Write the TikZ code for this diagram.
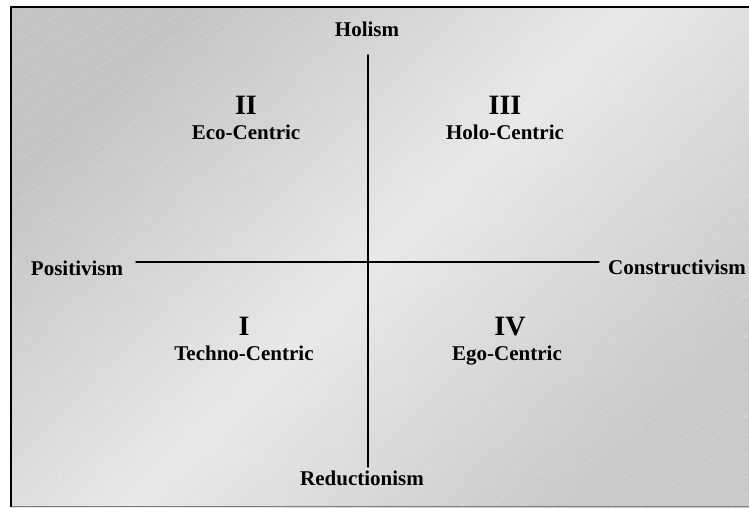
\documentclass[tikz,border=0pt]{standalone}
\usepackage{fontspec}
\setmainfont{Liberation Serif}
\usetikzlibrary{positioning}
\tikzset{
  every picture/.append style={line cap=round,line join=round},
  axis label/.style={font=\fontsize{21}{24}\selectfont\bfseries,inner sep=0pt,anchor=base},
  quad numeral/.style={font=\fontsize{28}{30}\selectfont\bfseries,inner sep=0pt,anchor=base},
  quad name/.style={axis label},
  axis line/.style={line width=1.4pt},
  paper stripe/.style={white,opacity=0.3,line width=0.5pt,dash pattern=on 2pt off 1.5pt},
  frame line/.style={line width=1.8pt,line cap=butt}
}

\begin{document}
\begin{tikzpicture}[x=1pt,y=-1pt]
  \useasboundingbox (0,0) rectangle (749,507);
  % paper
  \shade[top color=black!23,bottom color=black!21,middle color=black!9,shading angle=45]
    (11,7) rectangle (749,507);
  \begin{scope}
    \clip (12,8) rectangle (749,505);
    \foreach \k in {-820,-790,...,760}
      \draw[paper stripe] (\k,520) -- ++(820,-547);
  \end{scope}
  \draw[frame line] (749,7) -| (11,507);
  \draw[gray,line width=1pt] (12,506) -- (749,506);

  % axes
  \coordinate (ytop) at (368,55);
  \coordinate (ybot) at (368,467);
  \coordinate (xleft) at (136,262);
  \coordinate (xright) at (599,262);
  \draw[axis line] (ytop) -- (ybot);
  \draw[axis line] (xleft) -- (xright);

  \node[axis label] (holism) at (367,36.5) {Holism};
  \node[axis label] (reduct) at (362,485.5) {Reductionism};
  \node[axis label] (posit) at (77,275.5) {Positivism};
  \node[axis label] (constr) at (677,274.5) {Constructivism};

  % quadrants
  \node[quad numeral] (qtwo) at (246,114) {II};
  \node[quad name] (eco) at (246,139) {Eco-Centric};
  \node[quad numeral] (qthree) at (505,114) {III};
  \node[quad name] (holo) at (505,139) {Holo-Centric};
  \node[quad numeral] (qone) at (244,335) {I};
  \node[quad name] (techno) at (244,360) {Techno-Centric};
  \node[quad numeral] (qfour) at (510,335) {IV};
  \node[quad name] (ego) at (507,360) {Ego-Centric};
\end{tikzpicture}
\end{document}
